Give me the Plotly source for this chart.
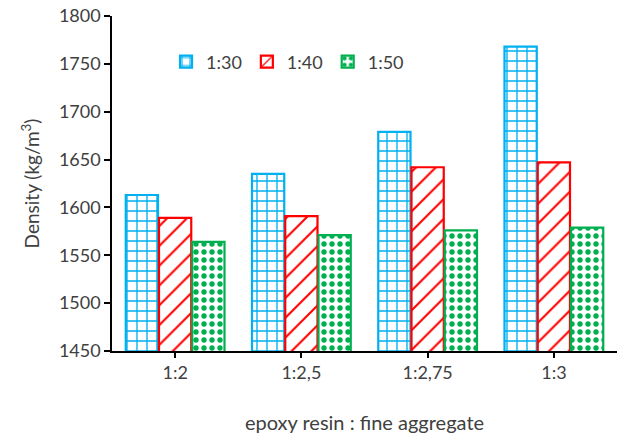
import plotly.graph_objects as go

categories = ["1:2", "1:2,5", "1:2,75", "1:3"]
series_names = ["1:30", "1:40", "1:50"]
values_130 = [1613, 1635, 1679, 1768]
values_140 = [1589, 1591, 1642, 1647]
values_150 = [1564, 1571, 1576, 1579]
y_ticks = [1450, 1500, 1550, 1600, 1650, 1700, 1750, 1800]

colors = ["#00B0F0", "#FF0000", "#00B050"]
shapes = ["+", "/", "."]
sizes = [10, 14, 8]
solidity = [0.25, 0.15, 0.35]

FONT = "Lato, Open Sans, sans-serif"
TXT = "#404040"

fig = go.Figure()
for name, vals, c, sh, sz, so in zip(series_names, [values_130, values_140, values_150], colors, shapes, sizes, solidity):
    fig.add_trace(go.Bar(
        x=categories, y=vals, name=name,
        marker=dict(color="white", line=dict(color=c, width=2.2),
                    pattern=dict(shape=sh, fgcolor=c, fgopacity=1, bgcolor="white",
                                 size=sz, solidity=so, fillmode="overlay")),
    ))

fig.update_layout(
    width=623, height=438,
    margin=dict(l=112, r=6, t=16, b=87),
    plot_bgcolor="white", paper_bgcolor="white",
    barmode="group", bargap=0.21, bargroupgap=0.03,
    font=dict(family=FONT, size=18, color=TXT),
    showlegend=True,
    legend=dict(orientation="h", x=0.107, y=0.863, xanchor="left", yanchor="middle",
                font=dict(family=FONT, size=18, color=TXT),
                bgcolor="rgba(0,0,0,0)", itemwidth=30, tracegroupgap=0),
    xaxis=dict(showline=True, linecolor="black", linewidth=1.5, ticks="outside",
               tickcolor="black", ticklen=5, tickwidth=1.5, showgrid=False,
               automargin=False,
               title=dict(text="epoxy resin : fine aggregate", standoff=34,
                          font=dict(family=FONT, size=20, color=TXT)),
               tickfont=dict(family=FONT, size=18, color=TXT)),
    yaxis=dict(showline=True, linecolor="black", linewidth=1.5, ticks="outside",
               tickcolor="black", ticklen=6, tickwidth=1.5, showgrid=False,
               automargin=False,
               range=[1450, 1800], tickvals=y_ticks, zeroline=False,
               title=dict(text="Density (kg/m<sup>3</sup>)", standoff=14,
                          font=dict(family=FONT, size=19, color=TXT)),
               tickfont=dict(family=FONT, size=18, color=TXT)),
)

# remove the browser's default 8px body margin so the figure fills the window
fig.write_html("out.html", config={"displayModeBar": False},
               post_script="document.body.style.margin='0';")
